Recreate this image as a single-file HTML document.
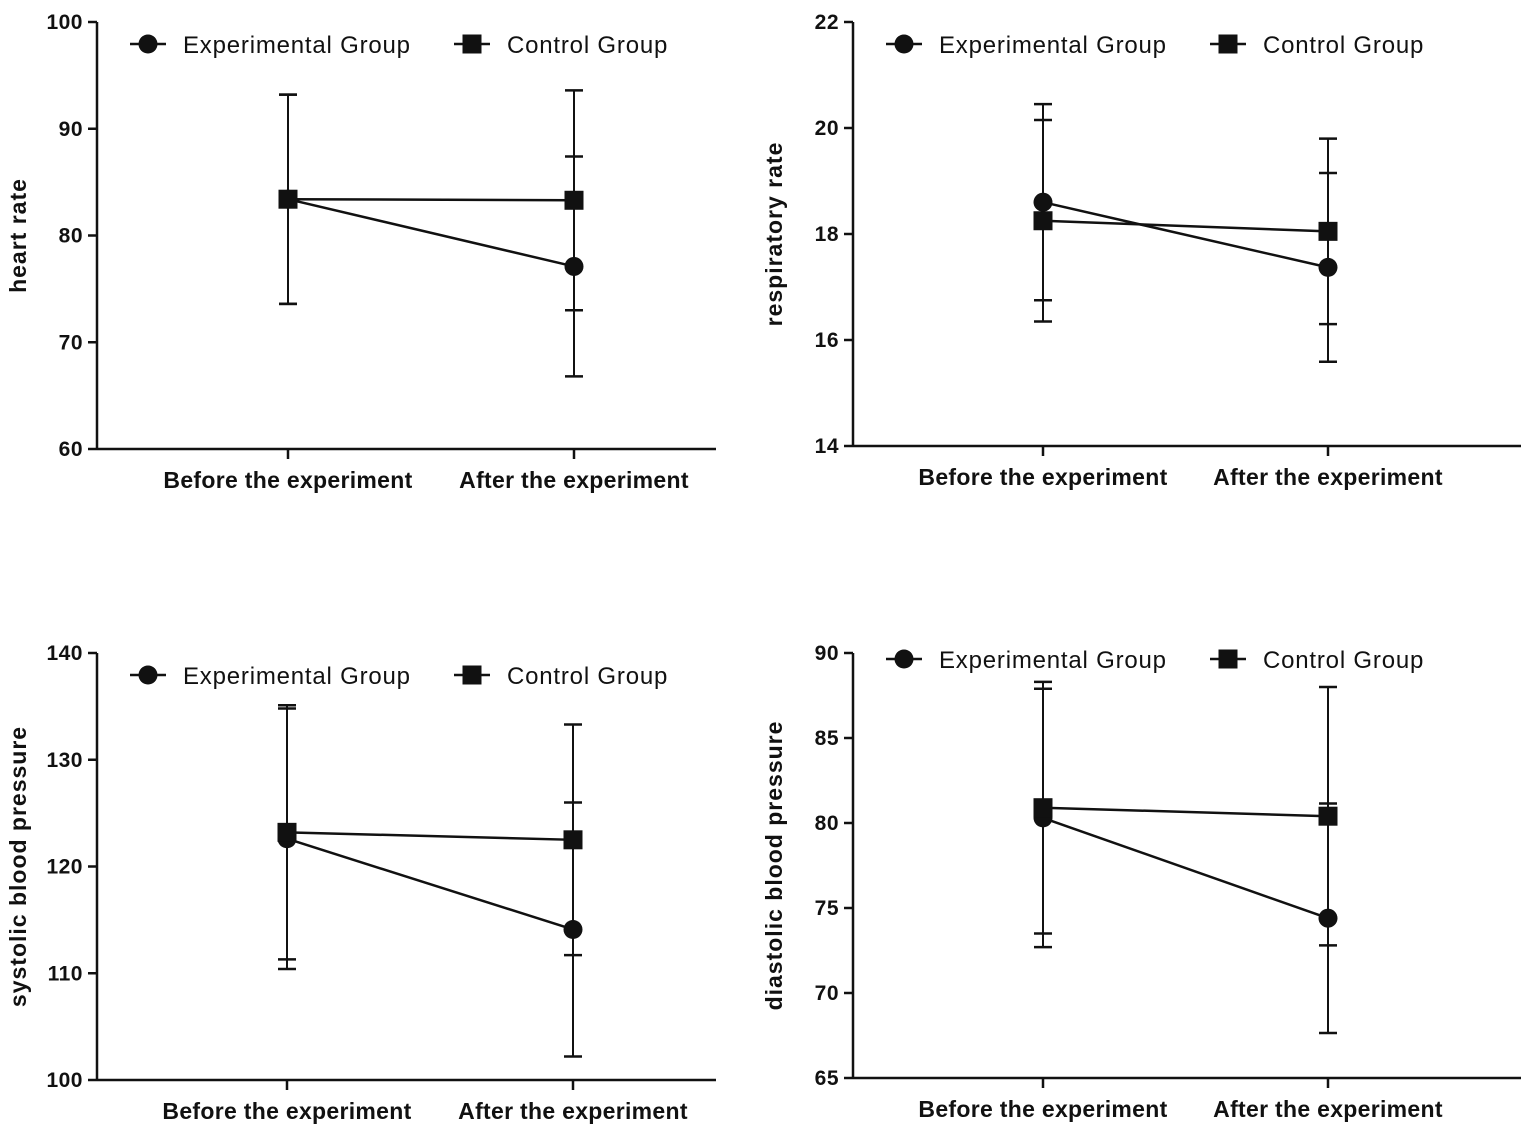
<!DOCTYPE html>
<html><head><meta charset="utf-8"><style>body{margin:0;background:#fff}svg{display:block}text{font-family:"Liberation Sans",Arial,sans-serif;fill:#111}</style></head>
<body>
<svg id="c" width="1535" height="1137" viewBox="0 0 1535 1137"></svg>
<script>
const categories = ["Before the experiment","After the experiment"];
const legendLabels = ["Experimental Group","Control Group"];
const panelTitles = ["heart rate","respiratory rate","systolic blood pressure","diastolic blood pressure"];
const yTicks = [[60,70,80,90,100],[14,16,18,20,22],[100,110,120,130,140],[65,70,75,80,85,90]];
const expMean = [[83.4,77.1],[18.6,17.37],[122.6,114.1],[80.3,74.4]];
const expSD = [[9.8,10.3],[1.85,1.78],[12.2,11.9],[7.6,6.75]];
const ctrlMean = [[83.4,83.3],[18.25,18.05],[123.2,122.5],[80.9,80.4]];
const ctrlSD = [[9.8,10.3],[1.9,1.75],[11.9,10.8],[7.4,7.6]];

const layout = [
 {ax:97, top:22, bot:449, right:716, cx:[288,574], leg:44},
 {ax:853, top:22, bot:446, right:1521, cx:[1043,1328], leg:44},
 {ax:97, top:653, bot:1080, right:716, cx:[287,573], leg:675},
 {ax:853, top:653, bot:1078, right:1521, cx:[1043,1328], leg:659}
];
const svg = document.getElementById('c');
const NS = 'http://www.w3.org/2000/svg';
function mk(tag, attrs, parent, txt){const e=document.createElementNS(NS,tag);for(const k in attrs)e.setAttribute(k,attrs[k]);if(txt!==undefined)e.textContent=txt;(parent||svg).appendChild(e);return e;}

layout.forEach((L,p)=>{
  const g = mk('g',{});
  
  
  const ticks = yTicks[p];
  const y0 = ticks[0], y1 = ticks[ticks.length-1];
  const Y = v => L.bot - (v - y0)/(y1 - y0)*(L.bot - L.top);
  const ya = mk('line',{x1:L.ax,y1:L.top,x2:L.ax,y2:L.bot,stroke:'#111','stroke-width':2.5},g);
  
  
  const xa = mk('line',{x1:L.ax,y1:L.bot,x2:L.right,y2:L.bot,stroke:'#111','stroke-width':2.5},g);
  
  
  ticks.forEach(t=>{
    mk('line',{x1:L.ax-9,y1:Y(t),x2:L.ax,y2:Y(t),stroke:'#111','stroke-width':2.5},g);
    const tl = mk('text',{x:L.ax-14,y:Y(t)+7,'text-anchor':'end','font-size':21,'font-weight':'bold','letter-spacing':0.5},g,t);
    
    
  });
  categories.forEach((c,i)=>{
    mk('line',{x1:L.cx[i],y1:L.bot,x2:L.cx[i],y2:L.bot+10,stroke:'#111','stroke-width':2.5},g);
    const cl = mk('text',{x:L.cx[i],y:L.bot+39,'text-anchor':'middle','font-size':23,'font-weight':'bold','letter-spacing':0.3},g,c);
    
    
  });
  const tx = L.ax - 71, ty = (L.top + L.bot)/2;
  const tt = mk('text',{x:tx,y:ty,'text-anchor':'middle','font-size':23,'font-weight':'bold','letter-spacing':1,transform:`rotate(-90 ${tx} ${ty})`},g,panelTitles[p]);
  
  
  [[expMean,expSD,'circle'],[ctrlMean,ctrlSD,'square']].forEach(([M,S,shape])=>{
    const sg = mk('g',{},g);
    
    
    M[p].forEach((m,i)=>{
      const x=L.cx[i], hi=Y(m+S[p][i]), lo=Y(m-S[p][i]);
      mk('line',{x1:x,y1:hi,x2:x,y2:lo,stroke:'#111','stroke-width':2},sg);
      mk('line',{x1:x-9,y1:hi,x2:x+9,y2:hi,stroke:'#111','stroke-width':2.5},sg);
      mk('line',{x1:x-9,y1:lo,x2:x+9,y2:lo,stroke:'#111','stroke-width':2.5},sg);
    });
    mk('line',{x1:L.cx[0],y1:Y(M[p][0]),x2:L.cx[1],y2:Y(M[p][1]),stroke:'#111','stroke-width':2.5},sg);
    M[p].forEach((m,i)=>{
      let mark;
      if(shape==='circle') mark = mk('circle',{cx:L.cx[i],cy:Y(m),r:9.5,fill:'#111'},sg);
      else mark = mk('rect',{x:L.cx[i]-9.5,y:Y(m)-9.5,width:19,height:19,fill:'#111'},sg);
      
      
    });
  });
  const lx = L.ax + 33;
  const lg = mk('g',{},g);
  
  
  [[0,'circle'],[324,'square']].forEach(([off,shape],k)=>{
    const bx = lx + off;
    mk('line',{x1:bx,y1:L.leg,x2:bx+36,y2:L.leg,stroke:'#111','stroke-width':2.5},lg);
    if(shape==='circle') mk('circle',{cx:bx+18,cy:L.leg,r:9.5,fill:'#111'},lg);
    else mk('rect',{x:bx+8.5,y:L.leg-9.5,width:19,height:19,fill:'#111'},lg);
    const lt = mk('text',{x:bx+53,y:L.leg+9,'font-size':24,'letter-spacing':0.8},lg,legendLabels[k]);
    
    
  });
});
</script>
</body></html>
